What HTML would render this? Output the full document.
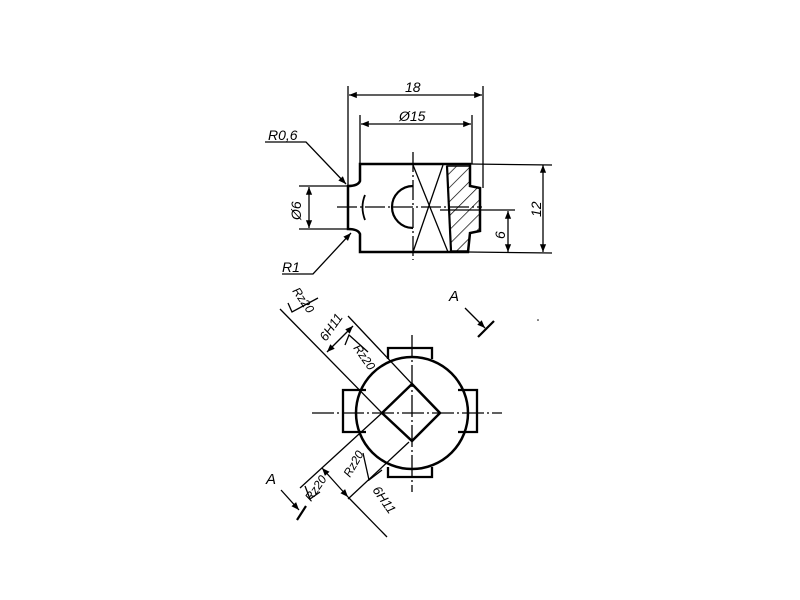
<!DOCTYPE html>
<html><head><meta charset="utf-8"><style>
html,body{margin:0;padding:0;background:#fff;}
svg{display:block;}
text{font-family:"Liberation Sans",sans-serif;font-style:italic;fill:#000;}
</style></head><body>
<svg width="800" height="600" viewBox="0 0 800 600" xmlns="http://www.w3.org/2000/svg">
<defs>
<marker id="a" viewBox="0 0 10 10" refX="10" refY="5" markerWidth="8" markerHeight="6" orient="auto-start-reverse"><path d="M0,1 L10,5 L0,9 Z" fill="#000"/></marker>
<pattern id="h" patternUnits="userSpaceOnUse" width="10" height="10" patternTransform="rotate(45)"><line x1="0" y1="0" x2="0" y2="10" stroke="#000" stroke-width="1.4"/></pattern>
</defs>
<g stroke="#000" fill="none" stroke-width="1.3">
<path d="M447,166 L470,166 L470,186 L480,188 L480,231 L470,233 L468,251 L451,251 Z" fill="url(#h)" stroke-width="1.5"/>
<path d="M360,164 L470,164 L470,186 L480,188 L480,231 L470,233 L468,252 L360,252 L360,234 Q358,229 348,229 L348,186 Q358,186 360,181 Z" stroke-width="2.5"/>
<line x1="447" y1="166" x2="451" y2="251" stroke-width="2.2"/>
<line x1="413" y1="165" x2="448" y2="252"/>
<line x1="443" y1="165" x2="413" y2="252"/>
<path d="M413,186 A21,21 0 0 0 413,228" stroke-width="2.2"/>
<path d="M365,195 Q360,207 365,220" stroke-width="1.8"/>
<line x1="337" y1="207" x2="482" y2="207" stroke-dasharray="20,3,2,3"/>
<line x1="413" y1="152" x2="413" y2="260" stroke-dasharray="20,3,2,3"/>
<line x1="348" y1="86" x2="348" y2="186"/>
<line x1="483" y1="86" x2="483" y2="188"/>
<line x1="349" y1="95" x2="482" y2="95" marker-start="url(#a)" marker-end="url(#a)"/>
<line x1="360" y1="115" x2="360" y2="164"/>
<line x1="472" y1="115" x2="472" y2="164"/>
<line x1="361" y1="124" x2="471" y2="124" marker-start="url(#a)" marker-end="url(#a)"/>
<line x1="470" y1="164" x2="552" y2="165"/>
<line x1="468" y1="252" x2="552" y2="253"/>
<line x1="543" y1="165" x2="543" y2="252" marker-start="url(#a)" marker-end="url(#a)"/>
<line x1="440" y1="210" x2="515" y2="210"/>
<line x1="508" y1="211" x2="508" y2="252" marker-start="url(#a)" marker-end="url(#a)"/>
<line x1="299" y1="186" x2="348" y2="186"/>
<line x1="299" y1="229" x2="348" y2="229"/>
<line x1="309" y1="187" x2="309" y2="228" marker-start="url(#a)" marker-end="url(#a)"/>
<polyline points="265,142 306,142 346,184" marker-end="url(#a)"/>
<polyline points="282,274 313,274 351,233" marker-end="url(#a)"/>
<path d="M388,359 L388,348 L432,348 L432,359" stroke-width="2.3"/>
<path d="M388,467 L388,477 L432,477 L432,467" stroke-width="2.3"/>
<path d="M366,390 L343,390 L343,432 L366,432" stroke-width="2.3"/>
<path d="M458,390 L477,390 L477,432 L458,432" stroke-width="2.3"/>
<circle cx="412" cy="413" r="56" stroke-width="2.5"/>
<path d="M412,384 L440,413 L412,441 L382,413 Z" stroke-width="2.5"/>
<line x1="312" y1="413" x2="502" y2="413" stroke-dasharray="22,3,2,3"/>
<line x1="412" y1="335" x2="412" y2="492" stroke-dasharray="22,3,2,3"/>
<line x1="280" y1="309" x2="382" y2="413"/>
<line x1="348" y1="316" x2="412" y2="384"/>
<line x1="327" y1="352" x2="353" y2="326" marker-start="url(#a)" marker-end="url(#a)"/>
<line x1="382" y1="413" x2="300" y2="488"/>
<line x1="409" y1="442" x2="348" y2="499"/>
<line x1="322" y1="468" x2="348" y2="497" marker-start="url(#a)" marker-end="url(#a)"/>
<line x1="348" y1="497" x2="387" y2="537"/>
<polyline points="288,303 292,312 318,298"/>
<polyline points="345,345 349,335 368,352"/>
<polyline points="363,453 369,480 382,470"/>
<polyline points="305,486 310,499 320,492"/>
<line x1="465" y1="308" x2="485" y2="328" marker-end="url(#a)"/>
<line x1="478" y1="337" x2="494" y2="321" stroke-width="2.2"/>
<line x1="281" y1="490" x2="299" y2="510" marker-end="url(#a)"/>
<line x1="297" y1="520" x2="306" y2="506" stroke-width="2.2"/>
</g>
<circle cx="538" cy="320" r="0.8" fill="#000"/>
<g font-size="14">
<text x="405" y="92">18</text>
<text x="399" y="121">Ø15</text>
<text x="268" y="140">R0,6</text>
<text x="282" y="272">R1</text>
<text transform="translate(301,220) rotate(-90)">Ø6</text>
<text transform="translate(541,217) rotate(-90)">12</text>
<text transform="translate(505,239) rotate(-90)">6</text>
<text x="449" y="301" font-size="15">A</text>
<text x="266" y="484" font-size="15">A</text>
<text transform="translate(292,291) rotate(55)" font-size="12">Rz20</text>
<text transform="translate(326,342) rotate(-55)" font-size="13">6H11</text>
<text transform="translate(353,348) rotate(55)" font-size="12">Rz20</text>
<text transform="translate(350,478) rotate(-60)" font-size="12">Rz20</text>
<text transform="translate(311,502) rotate(-55)" font-size="12">Rz20</text>
<text transform="translate(372,490) rotate(55)" font-size="13">6H11</text>
</g>
</svg>
</body></html>
